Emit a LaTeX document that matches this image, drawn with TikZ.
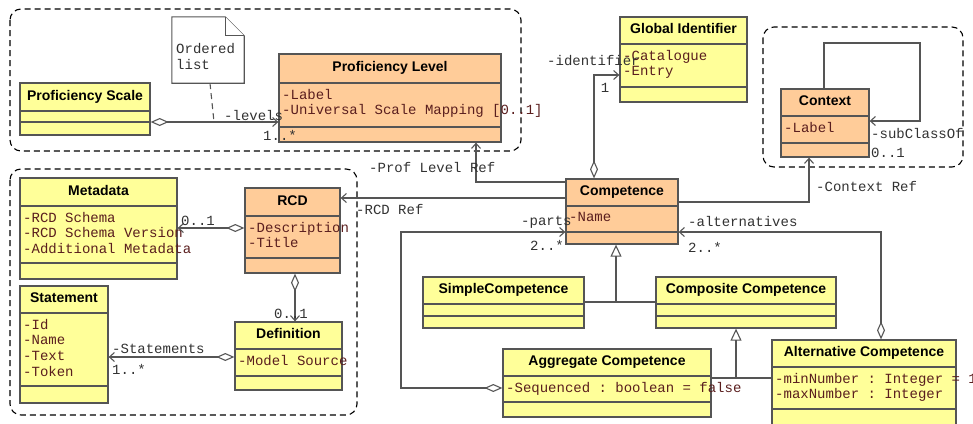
\documentclass[tikz,border=0pt]{standalone}
\usepackage{fontspec}
\setmainfont{Liberation Sans}
\setmonofont{Liberation Mono}
\usetikzlibrary{arrows.meta,fit,calc}

\definecolor{clsyellow}{RGB}{255,255,153}
\definecolor{clsorange}{RGB}{255,204,153}
\definecolor{clsline}{RGB}{85,85,85}
\definecolor{attrtext}{RGB}{90,30,30}
\definecolor{lbltext}{RGB}{50,50,50}

\tikzset{
  umlbox/.style={draw=clsline, line width=1.3pt, inner sep=0pt},
  umlsep/.style={draw=clsline, line width=1.3pt},
  umltitle/.style={font=\bfseries\fontsize{14}{16}\selectfont, text height=10pt, text depth=3pt, inner sep=0pt},
  umlattr/.style={font=\ttfamily\fontsize{14}{15.6}\selectfont, text=attrtext, align=left, anchor=north west, inner sep=0pt},
  lbl/.style={font=\ttfamily\fontsize{14}{16}\selectfont, text=lbltext, inner sep=0pt},
  conn/.style={draw=clsline, line width=1.1pt},
  nav/.style={conn, -{Straight Barb[length=5pt,width=9pt]}},
  agg/.style={conn, {Diamond[open,length=18pt,width=8pt]}-{Straight Barb[length=5pt,width=9pt]}},
  gen/.style={conn, -{Triangle[open,length=12pt,width=11pt]}},
  group/.style={draw=black, line width=1.1pt, dash pattern=on 6pt off 4pt, rounded corners=11pt},
  notebox/.style={draw=clsline, line width=1.1pt, fill=white},
}

% name, fill, corner, corner, header line, attribute line, title
\newcommand{\umlclass}[7]{%
  \node[umlbox, fill=#2, fit={(#3) (#4)}] (#1) {};
  \draw[umlsep] (#1.west |- 0,#5) -- (#1.east |- 0,#5);
  \draw[umlsep] (#1.west |- 0,#6) -- (#1.east |- 0,#6);
  \node[umltitle] (#1-title) at ($(#1.north)!0.5!(#1.north |- 0,#5)$) {#7};
}

\begin{document}
\begin{tikzpicture}[x=1pt, y=-1pt]

  \useasboundingbox (0,0) rectangle (973,423);

  % groups
  \draw[group] (10,9) rectangle (521,151);
  \draw[group] (10,169) rectangle (357,415);
  \draw[group] (763,27) rectangle (963,167);

  % note
  \node[fit={(172,17) (244,83)}, inner sep=0pt] (note) {};
  \draw[notebox] (note.north west) -- ([xshift=-19pt]note.north east) -- ([yshift=-19pt]note.north east)
    -- (note.south east) -- (note.south west) -- cycle;
  \draw[notebox] ([xshift=-19pt]note.north east) -- ([xshift=-19pt,yshift=-19pt]note.north east) -- ([yshift=-19pt]note.north east);
  \node[lbl, align=left, anchor=north west] (note-text) at (176,43) {Ordered\\list};

  % classes
  \umlclass{ps}{clsyellow}{20,83}{150,135}{111}{122}{Proficiency Scale}
  \umlclass{pl}{clsorange}{279,54}{501,142}{83}{127}{Proficiency Level}
  \umlclass{gid}{clsyellow}{620,17}{747,102}{44}{87}{Global Identifier}
  \umlclass{ctx}{clsorange}{781,89}{869,157}{116}{143}{Context}
  \umlclass{md}{clsyellow}{20,178}{177,279}{206}{263}{Metadata}
  \umlclass{rcd}{clsorange}{245,188}{340,273}{216}{258}{RCD}
  \umlclass{st}{clsyellow}{20,286}{108,403}{313}{386}{Statement}
  \umlclass{df}{clsyellow}{235,322}{342,390}{349}{376}{Definition}
  \umlclass{cp}{clsorange}{566,179}{678,244}{206}{232}{Competence}
  \umlclass{sc}{clsyellow}{423,277}{584,328}{304}{316}{SimpleCompetence}
  \umlclass{cc}{clsyellow}{656,277}{836,328}{304}{316}{Composite Competence}
  \umlclass{ag}{clsyellow}{503,349}{711,417}{376}{402}{Aggregate Competence}
  \umlclass{al}{clsyellow}{772,340}{956,445}{367}{409}{Alternative Competence}

  % attributes
  \node[umlattr] (pl-attr) at (282,89) {-Label\\-Universal Scale Mapping [0..1]};
  \node[umlattr] (gid-attr) at (623,50) {-Catalogue\\-Entry};
  \node[umlattr] (ctx-attr) at (784,122) {-Label};
  \node[umlattr] (md-attr) at (23,212) {-RCD Schema\\-RCD Schema Version\\-Additional Metadata};
  \node[umlattr] (rcd-attr) at (248,222) {-Description\\-Title};
  \node[umlattr] (st-attr) at (23,319) {-Id\\-Name\\-Text\\-Token};
  \node[umlattr] (df-attr) at (238,355) {-Model Source};
  \node[umlattr] (cp-attr) at (569,212) {-Name};
  \node[umlattr] (ag-attr) at (506,382) {-Sequenced : boolean = false};
  \node[umlattr] (al-attr) at (775,373) {-minNumber : Integer = 1\\-maxNumber : Integer};

  % connectors
  \draw[agg] (ps.east |- 0,122) -- (pl.west |- 0,122);
  \draw[conn, dash pattern=on 6pt off 4pt] (210,0 |- note.south) -- (214,122);
  \draw[nav] (cp.west |- 0,182) -- (476,182) -- (476,0 |- pl.south);
  \draw[nav] (cp.west |- 0,198) -- (rcd.east |- 0,198);
  \draw[agg] (594,0 |- cp.north) -- (594,75) -- (gid.west |- 0,75);
  \draw[nav] (824,0 |- ctx.north) -- (824,43) -- (920,43) -- (920,121) -- (ctx.east |- 0,121);
  \draw[nav] (cp.east |- 0,202) -- (809,202) -- (809,0 |- ctx.south);
  \draw[agg] (rcd.west |- 0,228) -- (md.east |- 0,228);
  \draw[agg] (295,0 |- rcd.south) -- (295,0 |- df.north);
  \draw[agg] (df.west |- 0,357) -- (st.east |- 0,357);
  \draw[agg] (ag.west |- 0,388) -- (401,388) -- (401,232) -- (cp.west |- 0,232);
  \draw[agg] (881,0 |- al.north) -- (881,232) -- (cp.east |- 0,232);

  \coordinate (gen1) at (616,302);
  \draw[conn] (sc.east |- gen1) -- (cc.west |- gen1);
  \draw[gen] (gen1) -- (gen1 |- cp.south);
  \coordinate (gen2) at (736,378);
  \draw[conn] (ag.east |- gen2) -- (al.west |- gen2);
  \draw[gen] (gen2) -- (gen2 |- cc.south);

  % roles and multiplicities
  \node[lbl, anchor=west] (lv-role) at (224,115) {-levels};
  \node[lbl, anchor=west] (lv-mult) at (263,135) {1..*};
  \node[lbl, anchor=west] (plr-role) at (369,167) {-Prof Level Ref};
  \node[lbl, anchor=west] (rcdr-role) at (356,209) {-RCD Ref};
  \node[lbl, anchor=west] (id-role) at (547,61) {-identifier};
  \node[lbl] (id-mult) at (605,88) {1};
  \node[lbl, anchor=west] (sub-role) at (871,133) {-subClassOf};
  \node[lbl, anchor=west] (sub-mult) at (871,153) {0..1};
  \node[lbl, anchor=west] (ctxr-role) at (816,186) {-Context Ref};
  \node[lbl, anchor=west] (md-mult) at (181,221) {0..1};
  \node[lbl, anchor=west] (df-mult) at (274,314) {0..1};
  \node[lbl, anchor=west] (st-role) at (112,349) {-Statements};
  \node[lbl, anchor=west] (st-mult) at (112,369) {1..*};
  \node[lbl, anchor=west] (pt-role) at (521,222) {-parts};
  \node[lbl, anchor=west] (pt-mult) at (530,245) {2..*};
  \node[lbl, anchor=west] (alt-role) at (688,221) {-alternatives};
  \node[lbl, anchor=west] (alt-mult) at (688,247) {2..*};

\end{tikzpicture}
\end{document}
